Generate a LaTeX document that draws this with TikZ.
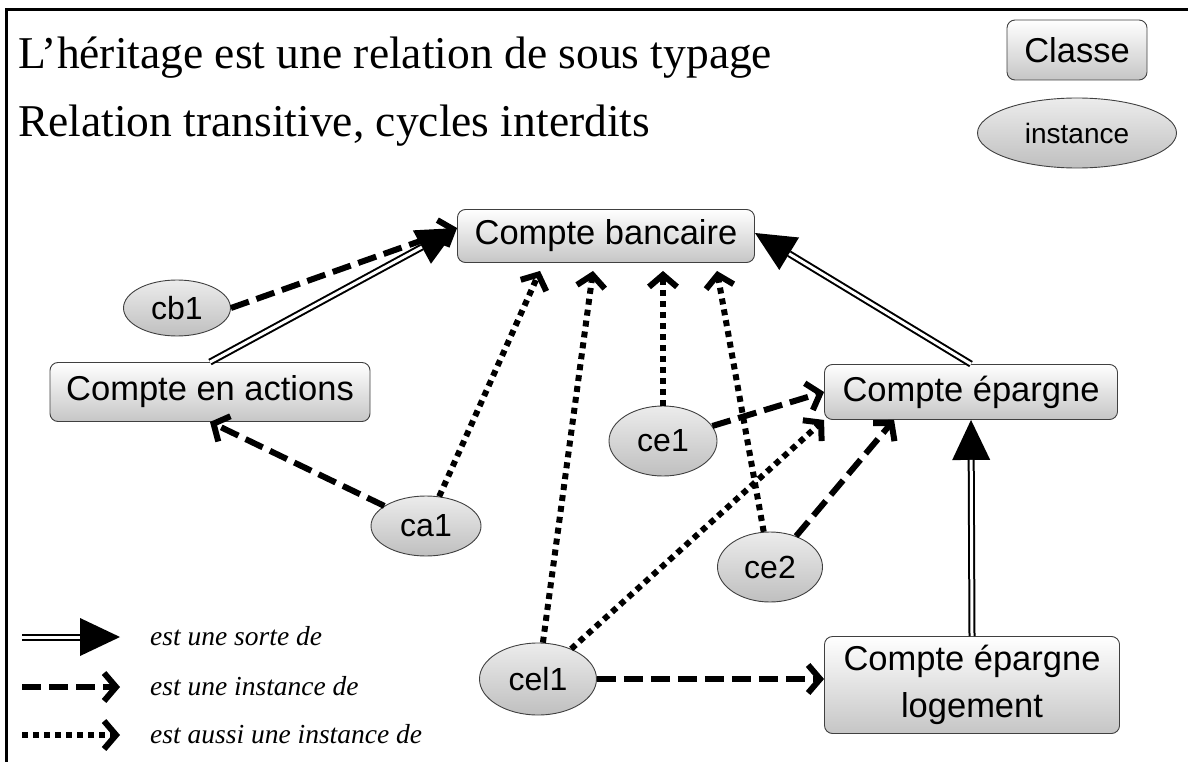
\documentclass[tikz,border=0pt]{standalone}
\usepackage{fontspec}
\setmainfont{Liberation Serif}
\setsansfont{Liberation Sans}
\usetikzlibrary{arrows.meta,shapes.geometric,calc}

\begin{document}
\begin{tikzpicture}[x=1pt,y=-1pt,
  classbox/.style={draw=black!75, line width=0.9pt, rounded corners=8pt,
    top color=white, bottom color=gray!45, inner sep=0pt, align=center,
    font=\sffamily\fontsize{34.5}{47}\selectfont},
  instnode/.style={ellipse, draw=black!75, line width=0.9pt,
    top color=gray!15, bottom color=gray!50, inner sep=0pt,
    font=\sffamily\fontsize{32}{36}\selectfont},
  isa/.style={line width=7pt, -{Triangle[length=40pt,width=38pt,line width=0pt]},
    postaction={draw=white, line width=3pt, shorten >=40pt, -}},
  inst/.style={line width=6pt, dash pattern=on 19pt off 8pt,
    -{Straight Barb[length=12pt,width=28pt]}},
  also/.style={line width=6pt, dash pattern=on 6pt off 5pt,
    -{Straight Barb[length=12pt,width=28pt]}},
  titletext/.style={anchor=base west, inner sep=0pt, font=\fontsize{45.5}{52}\selectfont},
  legendtext/.style={anchor=base west, inner sep=0pt, font=\itshape\fontsize{27.5}{32}\selectfont}
]
\useasboundingbox (0,0) rectangle (1188,762);

% frame
\draw[line width=3pt] (6,762) -- (6,10) -- (1188,10);

% titles
\node[titletext] (t1) at (18,69) {L’héritage est une relation de sous typage};
\node[titletext] (t2) at (18,137) {Relation transitive, cycles interdits};

% key of the two node kinds
\node[classbox, minimum width=140pt, minimum height=60pt] (classe) at (1077,50) {Classe};
\node[instnode, minimum width=199pt, minimum height=70pt,
      font=\sffamily\fontsize{28}{32}\selectfont] (instance) at (1077,133) {instance};

% classes
\node[classbox, minimum width=297pt, minimum height=53pt] (cb) at (606,236) {Compte bancaire};
\node[classbox, minimum width=320pt, minimum height=59pt] (cea) at (210,392) {Compte en actions};
\node[classbox, minimum width=293pt, minimum height=55pt] (ce) at (971,392) {Compte épargne};
\node[classbox, minimum width=295pt, minimum height=97pt] (cel) at (972,685) {Compte épargne\\logement};

% instances
\node[instnode, minimum width=107pt, minimum height=56pt] (cb1) at (177,308) {cb1};
\node[instnode, minimum width=110pt, minimum height=60pt] (ca1) at (426,526) {ca1};
\node[instnode, minimum width=108pt, minimum height=70pt] (ce1) at (663,441) {ce1};
\node[instnode, minimum width=105pt, minimum height=70pt] (ce2) at (770,567) {ce2};
\node[instnode, minimum width=117pt, minimum height=72pt] (cel1) at (538,679) {cel1};

% instance-of links
\draw[inst] (cb1.east) -- ([yshift=8pt]cb.west);
\draw[inst] (ca1) -- (cea.south);
\draw[inst] (ce1) -- (ce.west);
\draw[inst] (ce2) -- ([xshift=70pt]ce.south west);
\draw[inst] (cel1.east) -- (cel1.east -| cel.west);

% indirect instance-of links
\draw[also] (ca1) -- ([xshift=-66pt,yshift=-8pt]cb.south);
\draw[also] (cel1) -- ([xshift=-13pt,yshift=-8pt]cb.south);
\draw[also] (ce1) -- ($(cb.south -| ce1)+(0,8)$);
\draw[also] (ce2) -- ([xshift=111pt,yshift=-8pt]cb.south);
\draw[also] (cel1) -- (ce.south west);

% subtyping links
\draw[isa] (cea.north) -- ([yshift=8pt]cb.west);
\draw[isa] (ce.north) -- ([yshift=3pt]cb.east);
\draw[isa] (cel.north) -- (ce.south);

% legend
\coordinate (k1a) at (22,637);  \coordinate (k1b) at (120,637);
\coordinate (k2a) at (22,687);  \coordinate (k2b) at (120,687);
\coordinate (k3a) at (22,735);  \coordinate (k3b) at (120,735);
\draw[isa]  (k1a) -- (k1b);
\draw[inst] (k2a) -- (k2b);
\draw[also] (k3a) -- (k3b);
\node[legendtext] (k1) at (150,645) {est une sorte de};
\node[legendtext] (k2) at (150,695) {est une instance de};
\node[legendtext] (k3) at (150,743) {est aussi une instance de};
\end{tikzpicture}
\end{document}
